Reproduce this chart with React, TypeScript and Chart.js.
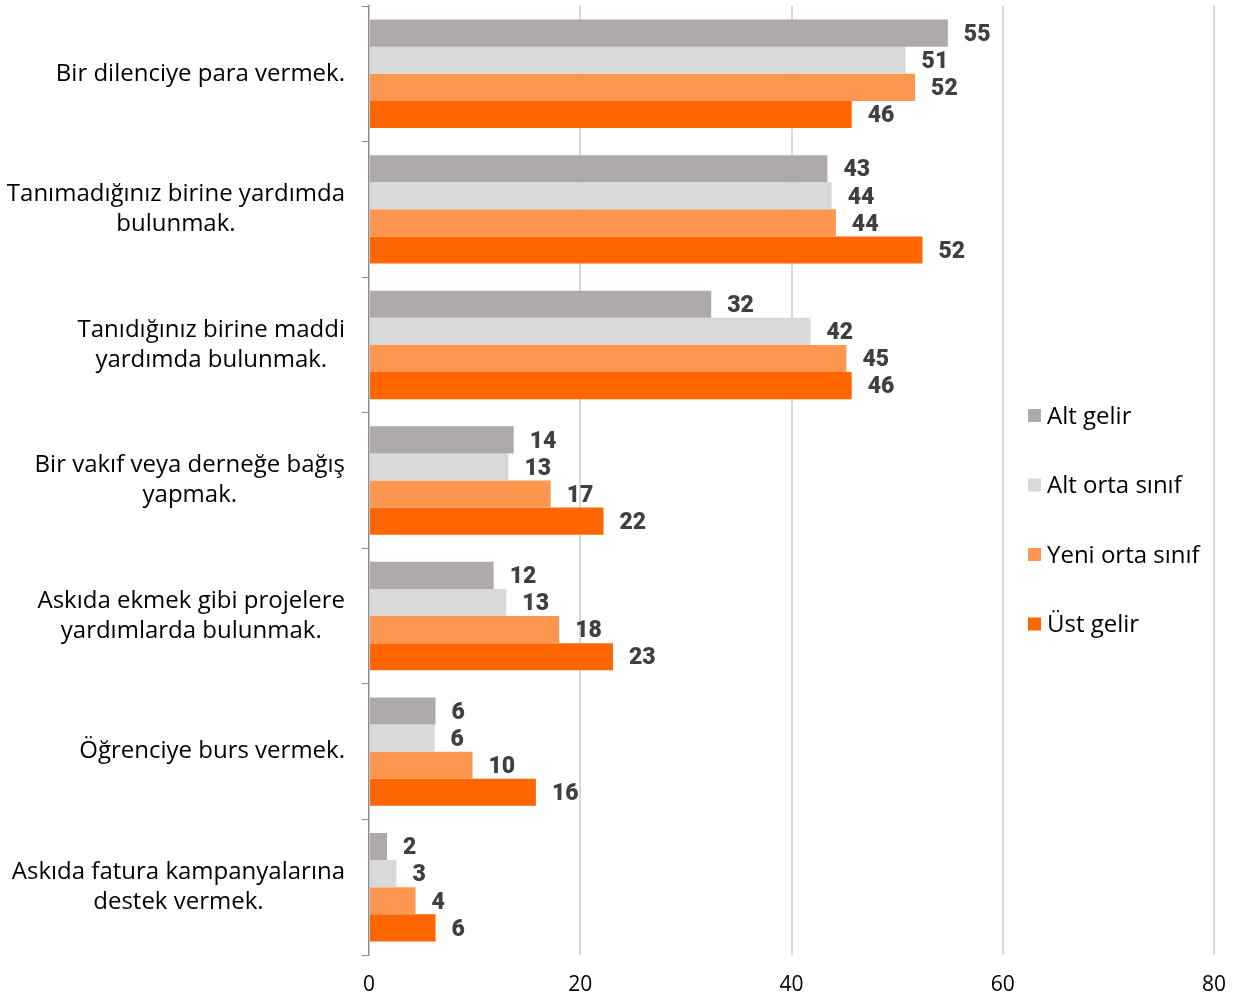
import React, { useEffect, useRef } from "react";
import { Chart, registerables } from "chart.js";

Chart.register(...registerables);

const categories: string[][] = [
  ["Bir dilenciye para vermek."],
  ["Tanımadığınız birine yardımda", "bulunmak."],
  ["Tanıdığınız birine maddi", "yardımda bulunmak."],
  ["Bir vakıf veya derneğe bağış", "yapmak."],
  ["Askıda ekmek gibi projelere", "yardımlarda bulunmak."],
  ["Öğrenciye burs vermek."],
  ["Askıda fatura kampanyalarına", "destek vermek."],
];

const seriesNames = ["Alt gelir", "Alt orta sınıf", "Yeni orta sınıf", "Üst gelir"];
const altGelir = [54.8, 43.4, 32.4, 13.7, 11.8, 6.3, 1.7];
const altOrtaSinif = [50.8, 43.8, 41.8, 13.2, 13.0, 6.2, 2.6];
const yeniOrtaSinif = [51.7, 44.2, 45.2, 17.2, 18.0, 9.8, 4.4];
const ustGelir = [45.7, 52.4, 45.7, 22.2, 23.1, 15.8, 6.3];
const xTicks = [0, 20, 40, 60, 80];

const colors = ["#aeaaaa", "#d9d9d9", "#ff9650", "#ff6600"];

const LABEL_FONT = "24px 'Open Sans', 'Liberation Sans', sans-serif";
const VALUE_FONT = "900 23px Roboto, 'Liberation Sans', sans-serif";

const drawPlugin = {
  id: "customDraw",
  afterDatasetsDraw(chart: any) {
    const ctx = chart.ctx;
    ctx.save();
    ctx.font = VALUE_FONT;
    ctx.fillStyle = "#404040";
    ctx.textAlign = "left";
    ctx.textBaseline = "middle";
    chart.data.datasets.forEach((ds: any, di: number) => {
      const meta = chart.getDatasetMeta(di);
      meta.data.forEach((el: any, i: number) => {
        ctx.fillText(String(Math.round(ds.data[i])), el.x + 16, el.y + 2);
      });
    });
    ctx.restore();
  },
  afterDraw(chart: any) {
    const ctx = chart.ctx;
    const yScale = chart.scales.y;
    ctx.save();
    ctx.font = LABEL_FONT;
    ctx.fillStyle = "#000000";
    ctx.textAlign = "center";
    ctx.textBaseline = "middle";
    const rightEdge = chart.chartArea.left - 24;
    const lh = 30;
    categories.forEach((lines, i) => {
      const yc = yScale.getPixelForValue(i);
      const maxW = Math.max(...lines.map((l) => ctx.measureText(l).width));
      const cx = rightEdge - maxW / 2;
      lines.forEach((l, k) => {
        ctx.fillText(l, cx, yc + (k - (lines.length - 1) / 2) * lh);
      });
    });
    // legend
    const lx = 1028;
    const ly0 = 416;
    const lstep = 69.5;
    ctx.textAlign = "left";
    seriesNames.forEach((name, i) => {
      const y = ly0 + i * lstep;
      ctx.fillStyle = colors[i];
      ctx.fillRect(lx, y - 7, 13, 13);
      ctx.fillStyle = "#000000";
      ctx.fillText(name, lx + 19, y + 1);
    });
    ctx.restore();
  },
};

export default function App() {
  const ref = useRef<HTMLCanvasElement>(null);
  useEffect(() => {
    document.body.style.margin = "0";
    const chart = new Chart(ref.current!, {
      type: "bar",
      data: {
        labels: categories.map((c) => c.join(" ")),
        datasets: [altGelir, altOrtaSinif, yeniOrtaSinif, ustGelir].map((d, i) => ({
          label: seriesNames[i],
          data: d,
          backgroundColor: colors[i],
          borderWidth: 0,
          categoryPercentage: 0.8,
          barPercentage: 1.0,
        })),
      },
      options: {
        indexAxis: "y",
        animation: false,
        responsive: false,
        layout: { padding: { left: 0, top: 6, right: 26, bottom: 0 } },
        plugins: { legend: { display: false }, tooltip: { enabled: false } },
        scales: {
          x: {
            min: 0,
            max: 80,
            afterBuildTicks: (scale: any) => {
              scale.ticks = xTicks.map((v) => ({ value: v }));
            },
            afterFit: (scale: any) => {
              scale.height = 46;
              scale.paddingRight = 0;
              scale.paddingLeft = 0;
            },
            grid: {
              color: (c: any) => (c.index === 0 ? "rgba(0,0,0,0)" : "#d9d9d9"),
              lineWidth: 2,
              drawTicks: false,
            },
            border: { display: false },
            ticks: {
              padding: 17,
              color: "#000000",
              font: { family: "'Open Sans', 'Liberation Sans', sans-serif", size: 21 },
            },
          },
          y: {
            afterFit: (scale: any) => {
              scale.width = 369;
              scale.paddingTop = 0;
              scale.paddingBottom = 0;
            },
            ticks: { display: false },
            grid: {
              drawOnChartArea: false,
              drawTicks: true,
              tickLength: 7,
              color: "#8c8c8c",
              lineWidth: 1,
            },
            border: { display: true, color: "#8c8c8c", width: 1.5 },
          },
        },
      },
      plugins: [drawPlugin],
    } as any);
    return () => chart.destroy();
  }, []);
  return (
    <div style={{ width: 1240, height: 1001 }}>
      <canvas ref={ref} width={1240} height={1001} />
    </div>
  );
}
